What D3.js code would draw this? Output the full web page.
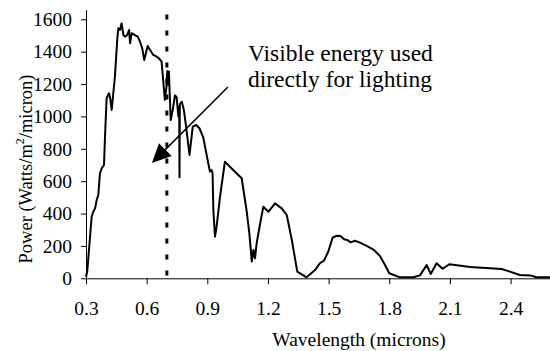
<!DOCTYPE html>
<meta charset="utf-8">
<style>
body {
  margin: 0;
  background: #fff;
}
.axis path, .axis line {
  stroke: #000;
  stroke-width: 1px;
}
.curve {
  fill: none;
  stroke: #000;
  stroke-width: 2px;
  stroke-linejoin: round;
}
</style>
<body>
<script src="https://cdn.jsdelivr.net/npm/d3@7"></script>
<script>
var width = 550,
    height = 351,
    serif = "Liberation Serif";

// solar spectrum
var wavelength = [0.300, 0.306, 0.328, 0.336, 0.345, 0.353, 0.361, 0.369, 0.378, 0.389,
  0.394, 0.402, 0.414, 0.420, 0.427, 0.443, 0.455, 0.460, 0.468, 0.476,
  0.485, 0.493, 0.504, 0.513, 0.518, 0.526, 0.542, 0.556, 0.567, 0.578,
  0.588, 0.605, 0.617, 0.633, 0.650, 0.661, 0.674, 0.683, 0.690, 0.698,
  0.702, 0.707, 0.710, 0.719, 0.729, 0.740, 0.748, 0.757, 0.761, 0.7625,
  0.764, 0.774, 0.784, 0.795, 0.812, 0.828, 0.845, 0.861, 0.880, 0.897,
  0.913, 0.921, 0.926, 0.930, 0.938, 0.946, 0.963, 0.987, 1.028, 1.070,
  1.094, 1.108, 1.120, 1.128, 1.136, 1.144, 1.160, 1.177, 1.202, 1.235,
  1.268, 1.293, 1.318, 1.345, 1.391, 1.433, 1.457, 1.477, 1.498, 1.520,
  1.540, 1.559, 1.576, 1.592, 1.609, 1.630, 1.655, 1.688, 1.724, 1.754,
  1.779, 1.800, 1.853, 1.919, 1.952, 1.985, 2.005, 2.034, 2.064, 2.097,
  2.200, 2.356, 2.397, 2.446, 2.496, 2.529, 2.600];
var power = [10, 40, 380, 411, 432, 484, 515, 649, 680, 700,
  875, 1112, 1143, 1110, 1040, 1246, 1483, 1545, 1534, 1575,
  1503, 1493, 1503, 1534, 1452, 1514, 1503, 1493, 1462, 1421,
  1349, 1435, 1411, 1380, 1369, 1359, 1338, 1205, 1102, 1184,
  1280, 1195, 1277, 978, 1040, 1130, 1120, 1000, 1060, 625,
  1075, 1091, 1040, 937, 762, 937, 947, 927, 870, 760,
  659, 669, 649, 422, 257, 319, 504, 720, 669, 618,
  422, 278, 103, 175, 124, 216, 329, 442, 411, 463,
  432, 391, 237, 41, 6, 51, 93, 109, 164, 251,
  263, 261, 241, 237, 222, 232, 220, 200, 175, 138,
  82, 31, 6, 6, 18, 82, 27, 93, 59, 87,
  70, 57, 41, 20, 18, 6, 6];

var xTicks = [0.3, 0.6, 0.9, 1.2, 1.5, 1.8, 2.1, 2.4];
var yTicks = [0, 200, 400, 600, 800, 1000, 1200, 1400, 1600];
var visibleEdge = 0.7;
var noteLines = ["Visible energy used", "directly for lighting"];

var data = wavelength.map(function(w, i) { return {w: w, p: power[i]}; });

var x = d3.scaleLinear().domain([0.3, 2.6]).range([86, 551]);
var y = d3.scaleLinear().domain([0, 1660]).range([278.3, 9.6]);

var svg = d3.select("body").append("svg")
    .attr("width", width)
    .attr("height", height);

function styleTicks(g) {
  g.attr("font-family", serif).attr("font-size", 19.5);
  g.selectAll("text").style("font-family", serif).style("font-size", "19.5px");
}

svg.append("g")
    .attr("class", "axis")
    .attr("transform", "translate(0," + y(0) + ")")
    .call(d3.axisBottom(x).tickValues(xTicks).tickSize(6).tickPadding(17)
      .tickFormat(d3.format(".1f")).tickSizeOuter(0))
    .call(styleTicks);

svg.append("g")
    .attr("class", "axis")
    .attr("transform", "translate(" + x(0.3) + ",0)")
    .call(d3.axisLeft(y).tickValues(yTicks).tickSize(5).tickPadding(9)
      .tickFormat(d3.format("d")).tickSizeOuter(0))
    .call(styleTicks);

// visible-light edge
svg.append("line")
    .attr("x1", x(visibleEdge)).attr("x2", x(visibleEdge))
    .attr("y1", y(1630)).attr("y2", y(0))
    .attr("stroke", "#000")
    .attr("stroke-width", 3)
    .attr("stroke-dasharray", "5,11");

svg.append("path")
    .datum(data)
    .attr("class", "curve")
    .attr("d", d3.line().x(function(d) { return x(d.w); }).y(function(d) { return y(d.p); }));

// arrow
var a0 = [x(1.002), y(1182)], a1 = [x(0.626), y(712)];
var ang = Math.atan2(a1[1] - a0[1], a1[0] - a0[0]),
    headLen = 19, headHalf = 9;
var bx = a1[0] - headLen * Math.cos(ang), by = a1[1] - headLen * Math.sin(ang);
svg.append("line")
    .attr("x1", a0[0]).attr("y1", a0[1])
    .attr("x2", bx).attr("y2", by)
    .attr("stroke", "#000").attr("stroke-width", 1.5);
svg.append("polygon")
    .attr("points", [
      a1,
      [bx + headHalf * Math.sin(ang), by - headHalf * Math.cos(ang)],
      [bx - headHalf * Math.sin(ang), by + headHalf * Math.cos(ang)]
    ].map(function(p) { return p.join(","); }).join(" "))
    .attr("fill", "#000");

svg.append("g").selectAll("text")
    .data(noteLines)
  .enter().append("text")
    .attr("x", 248)
    .attr("y", function(d, i) { return 60.5 + i * 26; })
    .style("font-family", serif)
    .style("font-size", "23.5px")
    .text(function(d) { return d; });

svg.append("text")
    .attr("x", 359)
    .attr("y", 346)
    .attr("text-anchor", "middle")
    .style("font-family", serif)
    .style("font-size", "19.5px")
    .text("Wavelength (microns)");

var yt = svg.append("text")
    .attr("transform", "translate(32,169) rotate(-90)")
    .attr("text-anchor", "middle")
    .style("font-family", serif)
    .style("font-size", "18.5px");
yt.append("tspan").text("Power (Watts/m");
yt.append("tspan").attr("dy", -8).style("font-size", "12px").text("2");
yt.append("tspan").attr("dy", 8).text("/micron)");
</script>
</body>
